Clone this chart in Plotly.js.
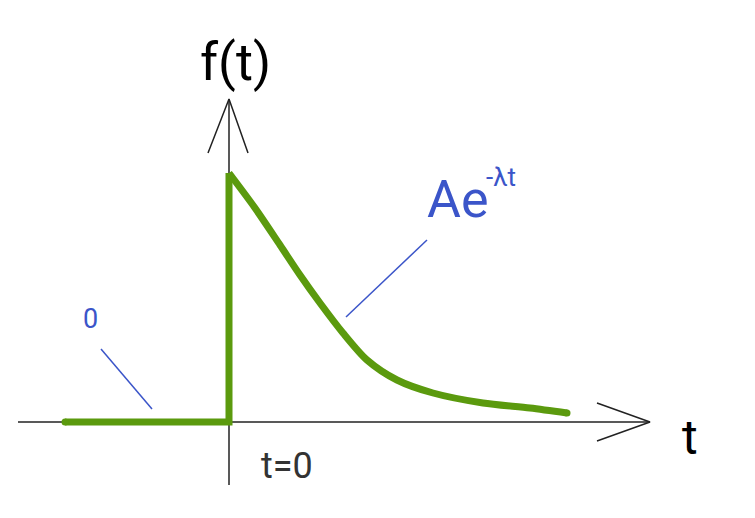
<!DOCTYPE html>
<html>
<head>
<meta charset="utf-8">
<script src="https://cdn.plot.ly/plotly-3.0.1.min.js"></script>
<style>html,body{margin:0;padding:0;background:#fff;}#chart{width:755px;height:518px;}</style>
</head>
<body>
<div id="chart"></div>
<script>
// Signal f(t): zero for t<0, A*e^(-lambda t) for t>=0
var stepT = [-164, 0, 0];
var stepF = [0, 0, 249];
var decayT = [0, 26, 51, 71, 91, 114, 138, 168, 204, 254, 301, 338];
var decayF = [249, 214, 177, 147, 119, 89, 62, 42, 29, 19, 14, 9];

// Axes with arrowheads
var tAxisT = [-211, 421];
var tAxisF = [0, 0];
var tArrowT = [368, 421, 368];
var tArrowF = [19, 0, -19];
var fAxisT = [0, 0];
var fAxisF = [-63, 323];
var fArrowT = [-21, 0, 19];
var fArrowF = [269, 323, 269];

// Pointer lines for labels
var expPointerT = [198, 117];
var expPointerF = [182, 105];
var zeroPointerT = [-128, -77];
var zeroPointerF = [73, 13];

// Labels
var labelTexts = ['f(t)', 't', 'Ae', '-λt', '0', 't=0'];
var labelT = [6, 461, 196, 255, -139, 58];
var labelF = [360, -15, 223, 245, 103, -44];

var green = '#5b9a0e';
var blue = '#3b55c9';
var axisCol = '#222222';

function line(x, y, color, width) {
  return {x: x, y: y, type: 'scatter', mode: 'lines', hoverinfo: 'skip',
          line: {color: color, width: width}, showlegend: false};
}

var traces = [
  line(tAxisT, tAxisF, axisCol, 1.5),
  line(tArrowT, tArrowF, axisCol, 1.5),
  line(fAxisT, fAxisF, axisCol, 1.5),
  line(fArrowT, fArrowF, axisCol, 1.5),
  line(expPointerT, expPointerF, blue, 1.5),
  line(zeroPointerT, zeroPointerF, blue, 1.5),
  line(stepT, stepF, green, 7),
  Object.assign(line(decayT, decayF, green, 7), {line: {color: green, width: 7, shape: 'spline', smoothing: 0.8}}),
  {x: [stepT[0], decayT[decayT.length - 1]], y: [stepF[0], decayF[decayF.length - 1]],
   type: 'scatter', mode: 'markers', hoverinfo: 'skip', showlegend: false,
   marker: {color: green, size: 7}}
];

var styles = [
  {size: 52, color: '#000000', xanchor: 'center'},
  {size: 48, color: '#000000', xanchor: 'center'},
  {size: 52, color: blue, xanchor: 'left'},
  {size: 26, color: blue, xanchor: 'left'},
  {size: 27, color: blue, xanchor: 'center'},
  {size: 36, color: '#333333', xanchor: 'center'}
];

var annotations = labelTexts.map(function (txt, i) {
  return {x: labelT[i], y: labelF[i], xref: 'x', yref: 'y', text: txt, showarrow: false,
          xanchor: styles[i].xanchor, yanchor: 'middle',
          font: {family: 'Roboto, Arial, sans-serif', size: styles[i].size, color: styles[i].color}};
});

var layout = {
  width: 755, height: 518,
  margin: {l: 0, r: 0, t: 0, b: 0},
  paper_bgcolor: '#ffffff', plot_bgcolor: '#ffffff',
  xaxis: {range: [-229, 526], visible: false, fixedrange: true},
  yaxis: {range: [-96, 422], visible: false, fixedrange: true},
  annotations: annotations,
  showlegend: false
};

Plotly.newPlot('chart', traces, layout, {staticPlot: true, displayModeBar: false});
</script>
</body>
</html>
